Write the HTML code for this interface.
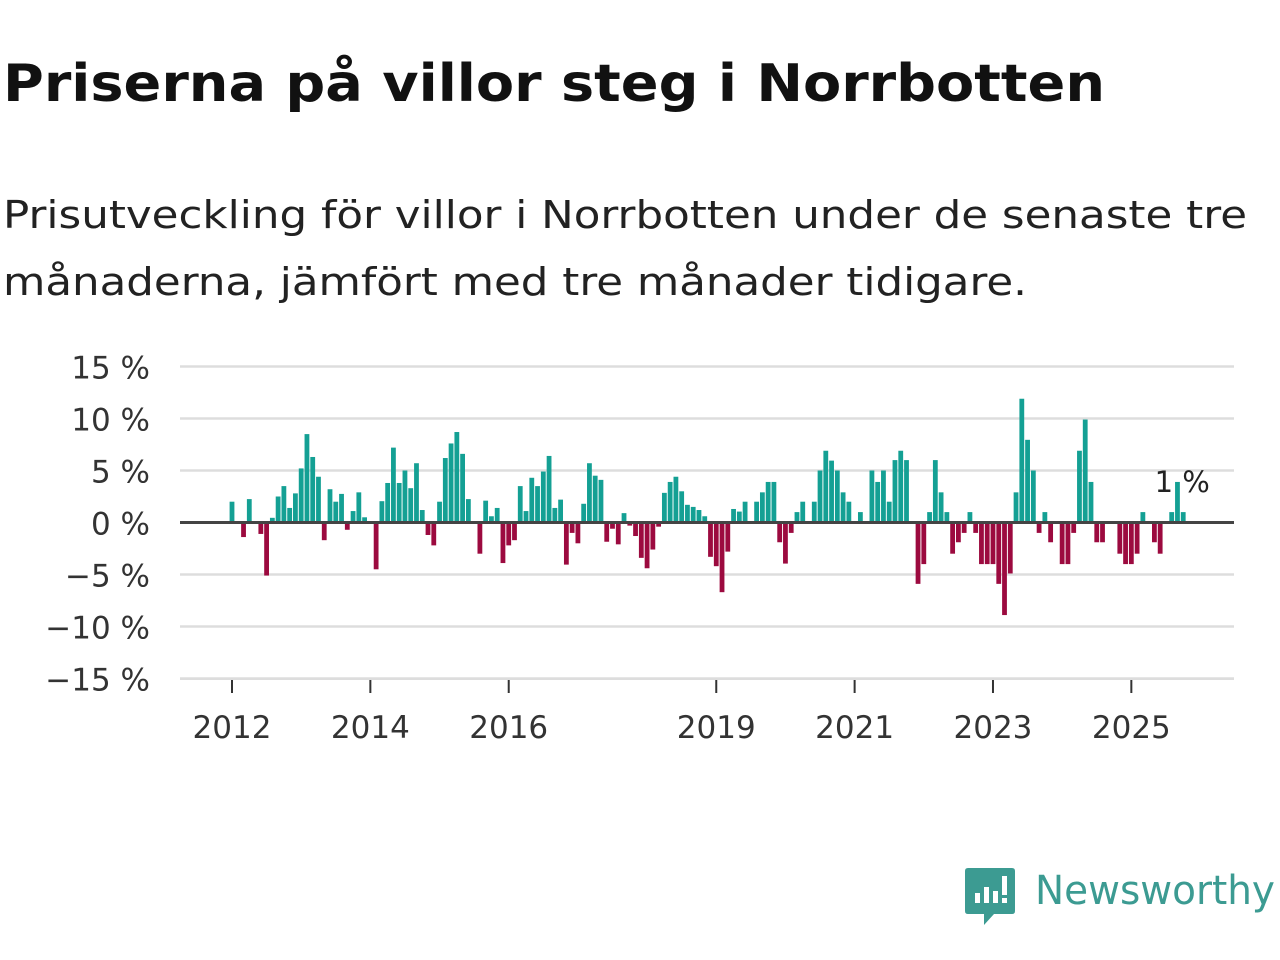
<!DOCTYPE html>
<html><head><meta charset="utf-8">
<style>
body{margin:0;width:1280px;height:960px;background:#fff;overflow:hidden;font-family:"DejaVu Sans","Liberation Sans",sans-serif;}
svg{display:block}
</style></head>
<body>
<svg width="1280" height="960" viewBox="0 0 1280 960">
<text x="3" y="101" font-size="52" font-weight="bold" fill="#111" textLength="1102" lengthAdjust="spacingAndGlyphs">Priserna på villor steg i Norrbotten</text>
<text x="3" y="228" font-size="38" fill="#222" textLength="1244" lengthAdjust="spacingAndGlyphs">Prisutveckling för villor i Norrbotten under de senaste tre</text>
<text x="3" y="295" font-size="38" fill="#222" textLength="1024" lengthAdjust="spacingAndGlyphs">månaderna, jämfört med tre månader tidigare.</text>
<g id="grid"></g>
<g id="bars"></g>
<g id="axis"></g>
<g>
<path d="M968 868 h44 q3 0 3 3 v40 q0 3 -3 3 h-18 l-10 11 v-11 h-16 q-3 0 -3 -3 v-40 q0 -3 3 -3z" fill="#3c9b92"/>
<rect x="975" y="893" width="5" height="10" fill="#fff"/>
<rect x="984" y="887" width="5" height="16" fill="#fff"/>
<rect x="993" y="891" width="5" height="12" fill="#fff"/>
<rect x="1002" y="876" width="5" height="19" fill="#fff"/>
<rect x="1002" y="898" width="5" height="5" fill="#fff"/>
<text x="1035" y="904" font-size="40" fill="#3c9b92" textLength="240" lengthAdjust="spacingAndGlyphs">Newsworthy</text>
</g>
</svg>
<script>
const values = [2.0,0,-1.4,2.25,0,-1.1,-5.1,0.45,2.5,3.5,1.4,2.8,
5.2,8.5,6.3,4.4,-1.7,3.2,2.0,2.75,-0.7,1.1,2.9,0.5,
0,-4.5,2.05,3.8,7.2,3.8,5.0,3.3,5.7,1.2,-1.2,-2.2,
2.0,6.2,7.6,8.7,6.6,2.25,0,-3.0,2.1,0.6,1.4,-3.9,
-2.2,-1.7,3.5,1.1,4.3,3.5,4.9,6.4,1.4,2.2,-4.05,-1.0,
-2.0,1.8,5.7,4.5,4.1,-1.85,-0.6,-2.1,0.9,-0.3,-1.3,-3.4,
-4.4,-2.6,-0.4,2.85,3.9,4.4,3.0,1.7,1.5,1.2,0.6,-3.3,
-4.2,-6.7,-2.8,1.3,1.05,2.0,0,2.0,2.9,3.9,3.9,-1.9,
-3.95,-1.0,1.0,2.0,0,2.0,5.0,6.9,5.95,5.0,2.9,2.0,
0,1.0,0,5.0,3.9,5.0,2.0,6.0,6.9,6.0,0,-5.9,
-4.0,1.0,6.0,2.9,1.0,-3.0,-1.9,-1.0,1.0,-1.0,-4.0,-4.0,
-4.0,-5.9,-8.9,-4.9,2.9,11.9,7.95,5.0,-1.0,1.0,-1.9,0,
-4.0,-4.0,-1.0,6.9,9.9,3.9,-1.9,-1.9,0,0,-3.0,-4.0,
-4.0,-3.0,1.0,0,-1.9,-3.0,0,1.0,3.9,1.0];
const startYear = 2012;
const yTicks = [15,10,5,0,-5,-10,-15];
const yTickLabels = ["15 %","10 %","5 %","0 %","−5 %","−10 %","−15 %"];
const xTickYears = [2012,2014,2016,2019,2021,2023,2025];
const lastLabel = "1 %";

const NS="http://www.w3.org/2000/svg";
const X0=232, MONTH=5.765, Y0=522.5, PPU=10.4, LEFT=180, RIGHT=1234;
const xs=m=>X0+m*MONTH;
const ys=v=>Y0-v*PPU;
function mk(tag,attrs,parent){const e=document.createElementNS(NS,tag);for(const k in attrs)e.setAttribute(k,attrs[k]);parent.appendChild(e);return e;}
const grid=document.getElementById('grid'),bars=document.getElementById('bars'),axis=document.getElementById('axis');
yTicks.forEach((t,i)=>{
  if(t!==0){const l=mk('line',{x1:LEFT,x2:RIGHT,y1:ys(t),y2:ys(t),stroke:'#ddd','stroke-width':2.5},grid);
  
  }
  const tx=mk('text',{x:150,y:ys(t)+12,'text-anchor':'end','font-size':31,fill:'#333'},axis);
  tx.textContent=yTickLabels[i];
  
  
});
values.forEach((v,m)=>{
  if(v===0)return;
  const y=v>0?ys(v):Y0, h=Math.abs(v)*PPU;
  const r=mk('rect',{x:xs(m)-2.4,y:y,width:4.8,height:h,fill:v>0?'#14a094':'#9c0a3f'},bars);
  
  
});
const zl=mk('line',{x1:LEFT,x2:RIGHT,y1:Y0,y2:Y0,stroke:'#444','stroke-width':3},axis);


const xb=mk('line',{x1:LEFT,x2:RIGHT,y1:679,y2:679,stroke:'#ddd','stroke-width':2},axis);


xTickYears.forEach(yr=>{
  const x=xs((yr-startYear)*12);
  const tk=mk('line',{x1:x,x2:x,y1:680,y2:693,stroke:'#333','stroke-width':2},axis);
  
  
  const tx=mk('text',{x:x,y:738,'text-anchor':'middle','font-size':31,fill:'#333'},axis);
  tx.textContent=yr;
  
  
});
const lm=values.length-1;
const ll=mk('text',{x:xs(lm)-1,y:492,'text-anchor':'middle','font-size':29,fill:'#222'},axis);
ll.textContent=lastLabel;


</script>
</body></html>
